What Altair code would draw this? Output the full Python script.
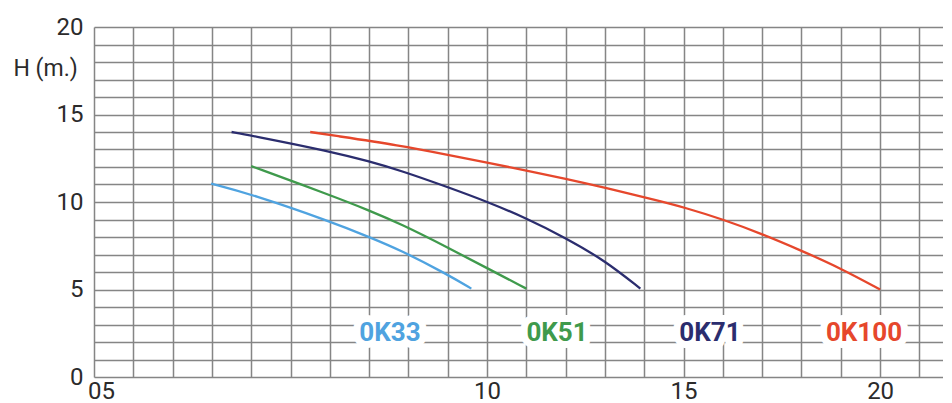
import altair as alt
import pandas as pd

models = ["0K33", "0K51", "0K71", "0K100"]
colors = ["#4fa3e0", "#3f9a4c", "#2b2d6e", "#e6472c"]

ok33_q = [2.98, 4.0, 6.0, 7.0, 7.8, 9.0, 9.6]
ok33_h = [11.05, 10.45, 8.9, 8.0, 7.25, 5.85, 5.05]

ok51_q = [4.0, 6.0, 7.0, 7.8, 9.0, 10.0, 11.0]
ok51_h = [12.05, 10.4, 9.52, 8.75, 7.4, 6.22, 5.05]

ok71_q = [3.5, 4.0, 6.0, 7.0, 7.8, 9.0, 10.0, 11.0, 12.0, 13.0, 13.9]
ok71_h = [14.0, 13.8, 12.9, 12.32, 11.8, 10.85, 10.02, 9.07, 7.95, 6.65, 5.05]

ok100_q = [5.5, 6.0, 7.8, 9.0, 10.0, 11.0, 12.0, 13.0, 14.4, 15.0, 16.0, 17.0, 18.0, 19.0, 20.0]
ok100_h = [14.0, 13.83, 13.23, 12.7, 12.25, 11.8, 11.33, 10.82, 10.05, 9.7, 9.01, 8.17, 7.22, 6.21, 5.0]

label_q = [7.53, 11.78, 15.67, 19.59]
label_h = [2.5, 2.5, 2.5, 2.5]

x_ticks = list(range(0, 22))
y_ticks = list(range(0, 21))

series = [(models[0], ok33_q, ok33_h), (models[1], ok51_q, ok51_h),
          (models[2], ok71_q, ok71_h), (models[3], ok100_q, ok100_h)]
rows = []
for name, qs, hs in series:
    for q, h in zip(qs, hs):
        rows.append({"model": name, "q": q, "h": h})
df = pd.DataFrame(rows)
labels_df = pd.DataFrame({"model": models, "q": label_q, "h": label_h})

FONT = "Roboto"
TXT = "#2b2b2b"
GRID = "#858585"

x_axis = alt.Axis(
    values=x_ticks,
    labelExpr="datum.value == 0 ? '05' : ((datum.value == 10 || datum.value == 15 || datum.value == 20) ? datum.label : '')",
    labelFont=FONT, labelFontSize=24, labelColor=TXT, labelPadding=2,
    labelFlush=False, labelOverlap=False,
    labelOffset={"condition": {"test": "datum.value == 0", "value": 7}, "value": 0},
    ticks=False, domain=False, grid=True, gridColor=GRID, gridWidth=1.5,
    title=None,
)
y_axis = alt.Axis(
    values=y_ticks,
    labelExpr="datum.value % 5 == 0 ? datum.label : ''",
    labelFont=FONT, labelFontSize=24, labelColor=TXT, labelPadding=11,
    labelOverlap=False, labelFlush=False,
    ticks=False, domain=False, grid=True, gridColor=GRID, gridWidth=1.4,
    title="H (m.)", titleAngle=0, titleX=-81, titleY=41, titleAlign="left",
    titleBaseline="middle", titleFont=FONT, titleFontSize=23,
    titleFontWeight="normal", titleColor=TXT,
)

xs = alt.Scale(domain=[0, 21.6], nice=False, zero=False)
ys = alt.Scale(domain=[0, 20], nice=False)
cs = alt.Scale(domain=models, range=colors)

X = alt.X("q:Q", scale=xs, axis=x_axis)
Y = alt.Y("h:Q", scale=ys, axis=y_axis)

lines = alt.Chart(df).mark_line(strokeWidth=2.3, interpolate="basis").encode(
    x=X, y=Y,
    color=alt.Color("model:N", scale=cs, legend=None),
)

halo = alt.Chart(labels_df).mark_text(
    font=FONT, fontWeight="bold", fontSize=26, color="white",
    stroke="white", strokeWidth=14, strokeJoin="round", baseline="middle",
).encode(x=X, y=Y, text="model:N")

texts = alt.Chart(labels_df).mark_text(
    font=FONT, fontWeight="bold", fontSize=26, baseline="middle",
).encode(
    x=X, y=Y, text="model:N",
    color=alt.Color("model:N", scale=cs, legend=None),
)

chart = (lines + halo + texts).properties(
    width=849, height=350, autosize="none",
    padding={"left": 86, "top": 19, "right": 0, "bottom": 32},
    background="white",
).configure_view(stroke=None)

chart.save("out.html", embed_options={"renderer": "svg", "actions": False})
